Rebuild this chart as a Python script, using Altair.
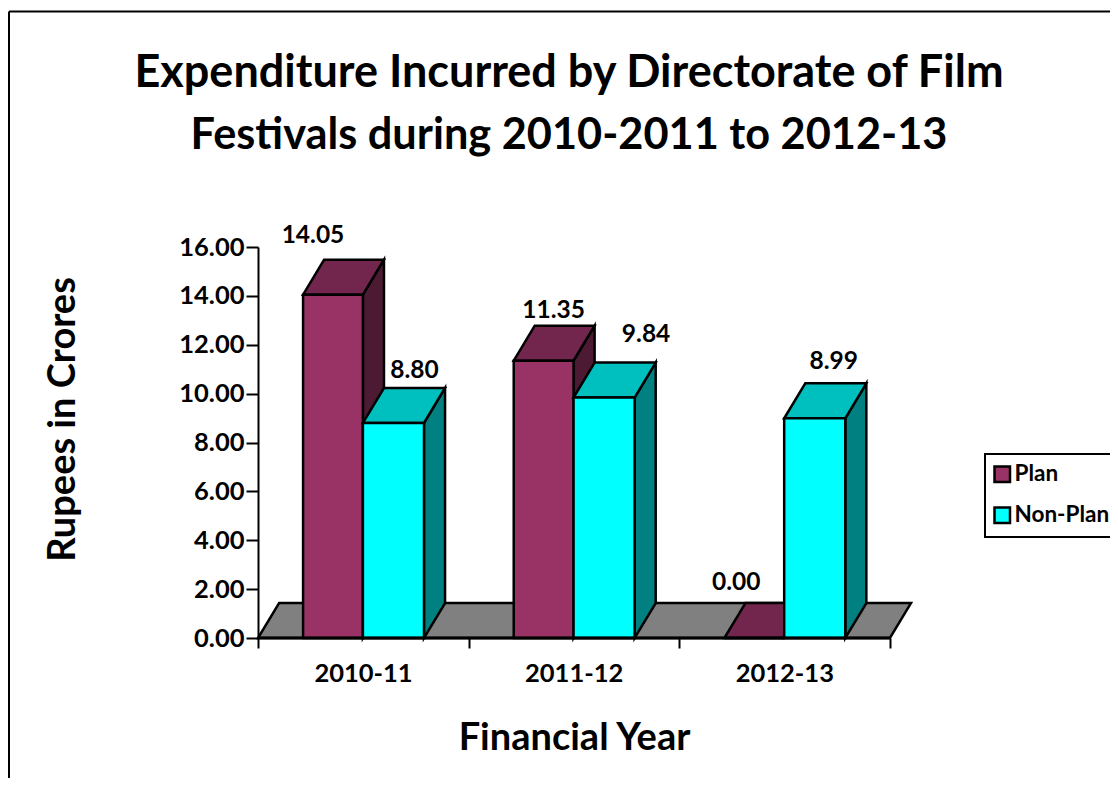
import altair as alt
import pandas as pd

years = ["2010-11", "2011-12", "2012-13"]
series_names = ["Plan", "Non-Plan"]
plan = [14.05, 11.35, 0.00]
non_plan = [8.80, 9.84, 8.99]
y_ticks = [0, 2, 4, 6, 8, 10, 12, 14, 16]
x_ticks = [0, 1, 2, 3]
title_lines = ["Expenditure Incurred by Directorate of Film", "Festivals during 2010-2011 to 2012-13"]

FONT = "Lato"
DX, DY = 0.1, 1.43
EW = 2.5
EDGES = {"Plan": (0.214, 0.498), "Non-Plan": (0.498, 0.788)}
FRONT = {"Plan": "#993366", "Non-Plan": "#00FFFF"}
TOP = {"Plan": "#73264D", "Non-Plan": "#00BFBF"}
SIDE = {"Plan": "#4D1A33", "Non-Plan": "#008080"}
# manual label nudges (pixels, relative to the bar's front-top centre)
NUDGE = {("Plan", 0): (-20, -59), ("Non-Plan", 0): (21, -52),
         ("Plan", 1): (10, -50), ("Non-Plan", 1): (42, -63),
         ("Plan", 2): (-18, -55), ("Non-Plan", 2): (19, -56)}

xs = alt.Scale(domain=[0, 3.1], nice=False, zero=False)
ys = alt.Scale(domain=[0, 16], nice=False)
X_AXIS = alt.Axis(
    values=x_ticks, title="Financial Year", grid=False, domain=False,
    tickSize=10, tickWidth=2, tickColor="black",
    labelExpr="['2010-11','2011-12','2012-13',''][datum.value]",
    labelOffset=105, labelPadding=13, labelFont=FONT, labelFontWeight="bold", labelFontSize=25.5,
    labelColor="black", labelOverlap=False, labelBound=False, labelFlush=False, labelAngle=0,
    titleFont=FONT, titleFontWeight="bold", titleFontSize=38, titleColor="black",
    titleX=316, titleY=100, titleBaseline="middle", titleAnchor="middle", titleAlign="center")
Y_AXIS = alt.Axis(
    values=y_ticks, format=".2f", title="Rupees in Crores", grid=False, domain=True,
    domainColor="black", domainWidth=2, tickSize=12, tickWidth=2, tickColor="black",
    labelPadding=2, labelFont=FONT, labelFontWeight="bold", labelFontSize=25.5, labelColor="black",
    titleFont=FONT, titleFontWeight="bold", titleFontSize=38, titleColor="black",
    titleX=-195, titleY=172, titleAngle=270, titleBaseline="middle", titleAnchor="middle", titleAlign="center")
NX = alt.X("x:Q", scale=xs, axis=X_AXIS)
NY = alt.Y("y:Q", scale=ys, axis=Y_AXIS)

rows = {"Plan": plan, "Non-Plan": non_plan}
floor_df = pd.DataFrame({"y": [0, DY], "x": [0, DX], "x2": [3, 3 + DX]})

layers = []
layers.append(
    alt.Chart(floor_df).mark_area(orient="horizontal", fill="#808080", stroke="black", strokeWidth=EW)
    .encode(x=NX, x2="x2:Q", y=NY)
)

for name in series_names:
    lo, hi = EDGES[name]
    side, top, front = [], [], []
    for i, v in enumerate(rows[name]):
        side += [{"f": i, "x": i + hi, "y": v, "y2": 0},
                 {"f": i, "x": i + hi + DX, "y": v + DY, "y2": DY}]
        top += [{"f": i, "y": v, "x": i + lo, "x2": i + hi},
                {"f": i, "y": v + DY, "x": i + lo + DX, "x2": i + hi + DX}]
        front.append({"series": name, "x": i + lo, "x2": i + hi, "y": v, "y2": 0})
    layers.append(alt.Chart(pd.DataFrame(side)).mark_area(fill=SIDE[name], stroke="black", strokeWidth=EW)
                  .encode(x=NX, y=NY, y2="y2:Q", detail="f:N"))
    layers.append(alt.Chart(pd.DataFrame(top)).mark_area(orient="horizontal", fill=TOP[name], stroke="black", strokeWidth=EW)
                  .encode(x=NX, x2="x2:Q", y=NY, detail="f:N"))
    layers.append(alt.Chart(pd.DataFrame(front)).mark_rect(stroke="black", strokeWidth=EW)
                  .encode(x=NX, x2="x2:Q", y=NY, y2="y2:Q",
                          color=alt.Color("series:N",
                                          scale=alt.Scale(domain=series_names, range=[FRONT[n] for n in series_names]),
                                          legend=alt.Legend(
                                              title=None, orient="none", legendX=727, legendY=207,
                                              symbolType="square", symbolSize=240, symbolStrokeColor="black",
                                              symbolStrokeWidth=2.5, symbolOffset=-3, labelFont=FONT, labelFontWeight="bold",
                                              labelFontSize=22.5, labelColor="black", labelOffset=1,
                                              fillColor="white", strokeColor="black", padding=9, rowPadding=15,
                                              labelLimit=300, symbolOpacity=1))))

# axis baseline
layers.append(alt.Chart(pd.DataFrame({"x": [0], "x2": [3], "y": [0]})).mark_rule(color="black", strokeWidth=3)
              .encode(x=NX, x2="x2:Q", y=NY))

# data labels
for name in series_names:
    lo, hi = EDGES[name]
    for i, v in enumerate(rows[name]):
        dx, dy = NUDGE[(name, i)]
        d = pd.DataFrame({"x": [i + (lo + hi) / 2], "y": [v], "t": [f"{v:.2f}"]})
        layers.append(alt.Chart(d).mark_text(font=FONT, fontWeight="bold", fontSize=24.5, color="black",
                                             dx=dx, dy=dy, baseline="middle", align="center")
                      .encode(x=NX, y=NY, text="t:N"))

# chart title, one text mark per line
for line, ypix, fs in zip(title_lines, [-174, -111], [45, 43.3]):
    layers.append(alt.Chart(pd.DataFrame({"t": [line]}))
                  .mark_text(font=FONT, fontWeight="bold", fontSize=fs, color="black",
                             baseline="middle", align="center")
                  .encode(x=alt.value(311), y=alt.value(ypix), text="t:N"))

# outer border
blank = alt.Data(values=[{"a": 1}])
layers.append(alt.Chart(blank).mark_rule(color="black", strokeWidth=2)
              .encode(x=alt.value(-249), y=alt.value(-235.5), y2=alt.value(560)))
layers.append(alt.Chart(blank).mark_rule(color="black", strokeWidth=2)
              .encode(x=alt.value(-249), x2=alt.value(870), y=alt.value(-235.5)))

chart = (
    alt.layer(*layers)
    .properties(
        width=653, height=391,
        autosize=alt.AutoSizeParams(type="none"),
        padding={"left": 250, "top": 239, "right": 199, "bottom": 140},
        background="white",
    )
    .configure_view(stroke=None)
    .configure_legend(strokeWidth=2)
)

chart.save("out.html", embed_options={"renderer": "svg", "actions": False})
